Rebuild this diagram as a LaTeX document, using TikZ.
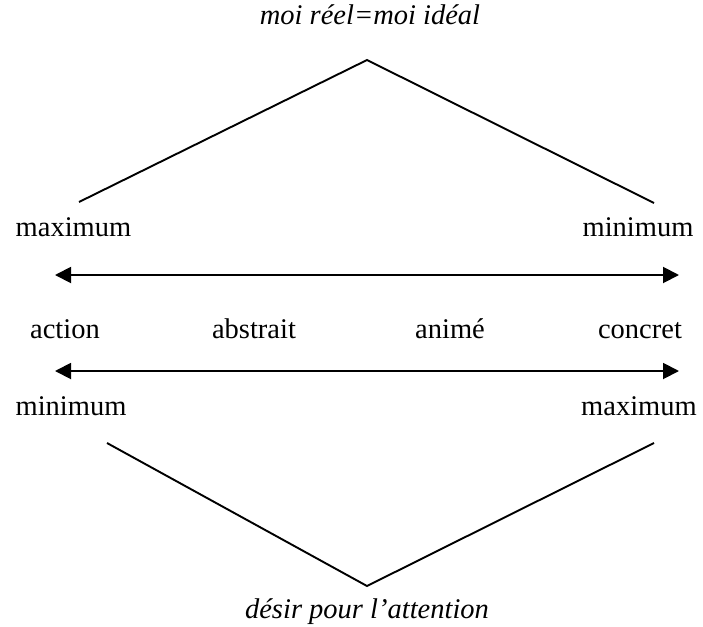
\documentclass[tikz,border=0pt]{standalone}
\usepackage{fontspec}
\setmainfont{Liberation Serif}
\usetikzlibrary{arrows.meta}
\begin{document}
\begin{tikzpicture}[x=1pt,y=-1pt,
  lbl/.style={anchor=base,inner sep=0pt,font=\fontsize{28.5}{34}\selectfont},
  ilbl/.style={lbl,font=\fontsize{28.5}{34}\selectfont\itshape},
  ln/.style={line width=1.9pt,black},
  dbl/.style={ln,{Triangle[length=16pt,width=16pt]}-{Triangle[length=16pt,width=16pt]}}]
\useasboundingbox (0,0) rectangle (703,626);
% texts
\node[ilbl] (top) at (370,25) {moi réel=moi idéal};
\node[ilbl] (bot) at (367,618) {désir pour l’attention};
\node[lbl] (maxL) at (73.5,236) {maximum};
\node[lbl] (minR) at (638,236) {minimum};
\node[lbl] (act) at (65,338) {action};
\node[lbl] (abs) at (254,338) {abstrait};
\node[lbl] (ani) at (450,338) {animé};
\node[lbl] (con) at (640,338) {concret};
\node[lbl] (minL) at (71,415) {minimum};
\node[lbl] (maxR) at (639,415) {maximum};
% points
\coordinate (apT) at (367,60);
\coordinate (tl) at (79,202);
\coordinate (tr) at (654,203);
\coordinate (apB) at (367,586);
\coordinate (bl) at (107,443);
\coordinate (br) at (654,443);
\coordinate (a1l) at (55,275);
\coordinate (a1r) at (679,275);
\coordinate (a2l) at (55,371);
\coordinate (a2r) at (679,371);
\coordinate (s1a) at (198,275);
\coordinate (s1b) at (223,275);
\coordinate (s2a) at (198,371);
\coordinate (s2b) at (223,371);
% lines
\draw[ln] (tl) -- (apT) -- (tr);
\draw[ln] (bl) -- (apB) -- (br);
\draw[dbl] (a1l) -- (a1r);
\draw[dbl] (a2l) -- (a2r);
\draw[line width=2.6pt] (s1a) -- (s1b);
\draw[line width=2.6pt] (s2a) -- (s2b);
\end{tikzpicture}
\end{document}
